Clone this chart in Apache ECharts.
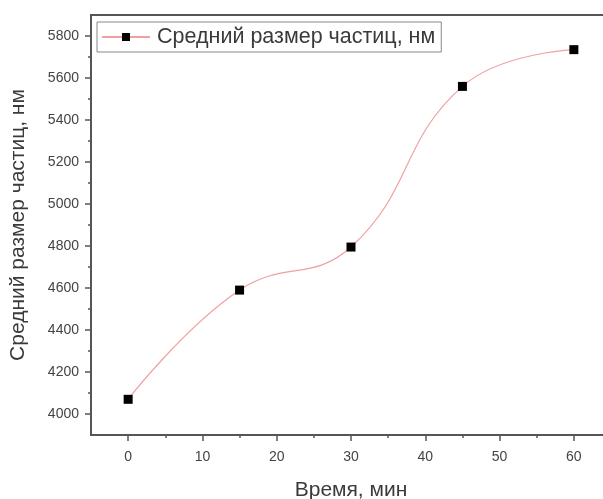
<!DOCTYPE html>
<html><head><meta charset="utf-8">
<script src="https://cdn.jsdelivr.net/npm/echarts@6/dist/echarts.min.js"></script>
<style>html,body{margin:0;padding:0;background:#fff}#c{width:603px;height:499px}</style>
</head><body><div id="c"></div>
<script>
const times = [0, 15, 30, 45, 60];
const sizes = [4070, 4590, 4795, 5560, 5735];
const xMajor = [0, 10, 20, 30, 40, 50, 60];
const xMinor = [5, 15, 25, 35, 45, 55];
const yMajor = [4000, 4200, 4400, 4600, 4800, 5000, 5200, 5400, 5600, 5800];
const yMinor = [4100, 4300, 4500, 4700, 4900, 5100, 5300, 5500, 5700];
const seriesName = 'Средний размер частиц, нм';
const xTitle = 'Время, мин';
const yTitle = 'Средний размер частиц, нм';

const font = 'Liberation Sans, Arial, sans-serif';
const chart = echarts.init(document.getElementById('c'), null, {renderer: 'canvas'});
const axisCol = '#555';
chart.setOption({
  animation: false,
  backgroundColor: '#fff',
  textStyle: {fontFamily: font},
  grid: {left: 91, top: 15, width: 520, height: 420, outerBoundsMode: 'none', containLabel: false,
         show: true, borderColor: axisCol, borderWidth: 2, backgroundColor: 'transparent'},
  legend: {
    left: 97, top: 22, padding: [4, 6, 4, 4],
    borderColor: '#888', borderWidth: 1,
    itemWidth: 48, itemHeight: 10, itemGap: 5,
    textStyle: {fontSize: 21.5, color: '#3a3a3a', fontFamily: font, padding: [0, 0, 0, 2]},
    data: [seriesName]
  },
  xAxis: [{
    type: 'value', min: -5, max: 65,
    name: xTitle, nameLocation: 'middle', nameGap: 45,
    nameTextStyle: {fontSize: 21, color: '#3a3a3a', fontFamily: font},
    axisLine: {show: true, onZero: false, lineStyle: {color: axisCol, width: 2}},
    axisTick: {show: true, customValues: xMajor, length: 6, lineStyle: {color: axisCol, width: 1.5}},
    axisLabel: {customValues: xMajor, fontSize: 14, color: '#444', margin: 15},
    splitLine: {show: false}
  }, {
    type: 'value', min: -5, max: 65, position: 'bottom', gridIndex: 0,
    axisLine: {show: false, onZero: false},
    axisTick: {show: true, customValues: xMinor, length: 3, lineStyle: {color: axisCol, width: 1.5}},
    axisLabel: {show: false}, splitLine: {show: false}
  }],
  yAxis: [{
    type: 'value', min: 3900, max: 5900,
    name: yTitle, nameLocation: 'middle', nameGap: 62, nameRotate: 90,
    nameTextStyle: {fontSize: 21, color: '#3a3a3a', fontFamily: font},
    axisLine: {show: true, onZero: false, lineStyle: {color: axisCol, width: 2}},
    axisTick: {show: true, customValues: yMajor, length: 6, lineStyle: {color: axisCol, width: 1.5}},
    axisLabel: {customValues: yMajor, fontSize: 14, color: '#444', margin: 12, formatter: v => String(v)},
    splitLine: {show: false}
  }, {
    type: 'value', min: 3900, max: 5900, position: 'left',
    axisLine: {show: false, onZero: false},
    axisTick: {show: true, customValues: yMinor, length: 3, lineStyle: {color: axisCol, width: 1.5}},
    axisLabel: {show: false}, splitLine: {show: false}
  }],
  series: [{
    name: seriesName, type: 'line',
    data: times.map((t, i) => [t, sizes[i]]),
    smooth: 0.45,
    symbol: 'rect', symbolSize: 9,
    lineStyle: {color: '#f0a0a0', width: 1.2},
    itemStyle: {color: '#000'}
  }]
});
</script></body></html>
